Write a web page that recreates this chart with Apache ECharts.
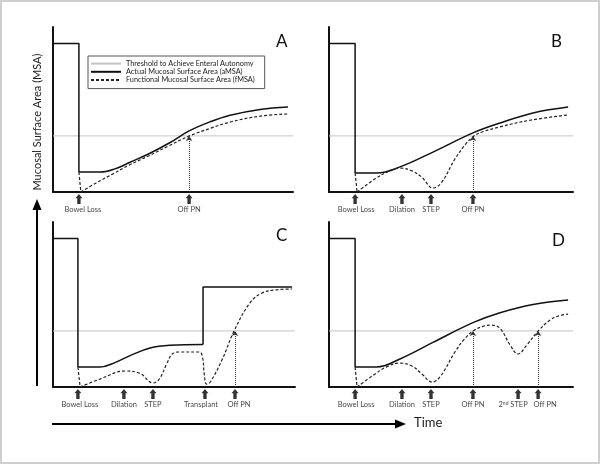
<!DOCTYPE html>
<html>
<head>
<meta charset="utf-8">
<script src="https://cdn.jsdelivr.net/npm/echarts@6/dist/echarts.min.js"></script>
<style>
  html, body { margin: 0; padding: 0; background: #fff; }
  #main { width: 601px; height: 465px; }
</style>
</head>
<body>
<div id="main"></div>
<script>
// values: time 0-100 on x, MSA 0-100 on y
const PRE_LOSS = 90
const THRESHOLD = 34

const stepA = [[0, PRE_LOSS], [10.8, PRE_LOSS], [10.8, 12.1]]
const actualA = [[10.8, 12.1], [19.6, 12.1], [25.8, 14], [32.1, 18], [40.4, 23.5], [48.8, 30], [56.7, 37], [65.4, 42.5], [73.8, 46.5], [86.3, 50], [97.9, 51.5]]
const dropA = [[10.8, 12.1], [11.6, 0]]
const functionalA = [[11.6, 0], [18, 5.5], [25, 11], [32, 16.5], [40, 22], [48, 27.8], [56.7, 33.9], [65.4, 38.5], [73.8, 42.4], [86.3, 46], [97.9, 47.3]]
const eventsA = ['Bowel Loss', 'Off PN']
const eventTimesA = [10.8, 56.7]
const offPnA = [56.7]

const stepB = [[0, PRE_LOSS], [10.7, PRE_LOSS], [10.7, 11.5]]
const actualB = [[10.7, 11.5], [19.5, 11.5], [29.1, 15.2], [42.6, 24.2], [59, 35.8], [70.1, 41.8], [83.6, 47.9], [98, 51.5]]
const dropB = [[10.7, 11.5], [11.5, 0]]
const functionalB = [[11.5, 0], [18.9, 8], [24, 12.2], [29.1, 14.5], [34, 12.8], [38, 9], [42.6, 2.4], [46, 5.5], [51.6, 20], [56, 29], [59.4, 33.9], [63, 36.5], [70.1, 39.5], [82.4, 43.5], [98, 46.7]]
const eventsB = ['Bowel Loss', 'Dilation', 'STEP', 'Off PN']
const eventTimesB = [10.7, 29.9, 41.8, 59]
const offPnB = [59]

const stepC = [[0, PRE_LOSS], [10.3, PRE_LOSS], [10.3, 12.1]]
const actualC = [[10.3, 12.1], [19.4, 12.1], [25.6, 14.8], [31.8, 19], [40.1, 23.6], [48.3, 25.3], [62, 25.8]]
const transplantC = [[62, 25.8], [62, 60.6], [98.8, 60.6]]
const dropC = [[10.3, 12.1], [11.2, 0]]
const functionalC = [[11.2, 0], [19.4, 4.8], [29.8, 9.7], [36, 8.2], [41.3, 2.4], [44, 5], [47, 14], [49.5, 20.3], [52.5, 21.2], [60.5, 21.2], [61.8, 18], [62.5, 8], [63.4, 1.8], [65, 3], [70, 17], [74.8, 33.9], [81.4, 51], [86.4, 57], [91.7, 58.8], [98.8, 59.4]]
const eventsC = ['Bowel Loss', 'Dilation', 'STEP', 'Transplant', 'Off PN']
const eventTimesC = [10.3, 29.3, 41.3, 62.8, 75.2]
const offPnC = [75.2]

const stepD = [[0, PRE_LOSS], [10.7, PRE_LOSS], [10.7, 12.1]]
const actualD = [[10.7, 12.1], [19.5, 12.1], [29.1, 17], [42.6, 27], [59, 39], [70.1, 45], [83.6, 50], [98, 52.7]]
const dropD = [[10.7, 12.1], [11.5, 0]]
const functionalD = [[11.5, 0], [18.9, 7.9], [24, 12.5], [29.1, 14.5], [34, 12.7], [38, 8], [42.2, 3], [45.5, 6.1], [51.6, 21.2], [55.5, 29], [59, 33.9], [63, 36.7], [66.5, 37.5], [70.1, 35.5], [74.2, 25.5], [77.5, 20], [81.1, 25.5], [85.7, 33.9], [90.6, 40.6], [94, 43], [98, 44.2]]
const eventsD = ['Bowel Loss', 'Dilation', 'STEP', 'Off PN', '2{sup|nd} STEP', 'Off PN']
const eventTimesD = [10.7, 29.9, 41.8, 59, 77.5, 85.7]
const offPnD = [59, 85.7]

const NAME_T = 'Threshold to Achieve Enteral Autonomy'
const NAME_A = 'Actual Mucosal Surface Area (aMSA)'
const NAME_F = 'Functional Mucosal Surface Area (fMSA)'
const FONT = 'Lato, "Open Sans", sans-serif'
const ARROW = 'path://M5,0L10,5L7.4,5L7.4,12L2.6,12L2.6,5L0,5Z'

// labelShift nudges crowded labels sideways (px), like the original layout
const panels = [
  { letter: 'A', grid: { left: 53, top: 27, width: 240, height: 165 }, step: stepA, actual: actualA, drop: dropA, functional: functionalA, events: eventsA, times: eventTimesA, offPn: offPnA, lx: 282, ly: 43, labelShift: [4, 0] },
  { letter: 'B', grid: { left: 329, top: 27, width: 244, height: 165 }, step: stepB, actual: actualB, drop: dropB, functional: functionalB, events: eventsB, times: eventTimesB, offPn: offPnB, lx: 557, ly: 43, labelShift: [1, 0, 0, 0] },
  { letter: 'C', grid: { left: 53, top: 222, width: 242, height: 165 }, step: stepC, actual: actualC, extraStep: transplantC, drop: dropC, functional: functionalC, events: eventsC, times: eventTimesC, offPn: offPnC, lx: 282, ly: 237, labelShift: [2, 0, 0, -4, 4] },
  { letter: 'D', grid: { left: 329, top: 222, width: 244, height: 165 }, step: stepD, actual: actualD, drop: dropD, functional: functionalD, events: eventsD, times: eventTimesD, offPn: offPnD, lx: 558, ly: 242, labelShift: [1, 0, 0, 0, -5, 7] },
]

const axisLine = { show: true, lineStyle: { color: '#111', width: 2 } }
const solid = { color: '#111', width: 1.5 }
const dashed = { color: '#222', width: 1.2, type: [3, 2] }

const grids = []
const xAxes = []
const yAxes = []
const series = []
const graphics = []

panels.forEach((p, i) => {
  grids.push(p.grid)
  xAxes.push({ type: 'value', gridIndex: i, min: 0, max: 100, axisLine, axisTick: { show: false }, axisLabel: { show: false }, splitLine: { show: false } })
  yAxes.push({ type: 'value', gridIndex: i, min: 0, max: 100, axisLine, axisTick: { show: false }, axisLabel: { show: false }, splitLine: { show: false } })
  const base = { type: 'line', xAxisIndex: i, yAxisIndex: i, symbol: 'none', animation: false }
  series.push({ ...base, name: NAME_T, data: [[0, THRESHOLD], [100, THRESHOLD]], lineStyle: { color: '#c4c4c4', width: 1 }, itemStyle: { color: '#c4c4c4' }, z: 1 })
  series.push({ ...base, name: NAME_A, data: p.step, lineStyle: solid, itemStyle: { color: '#111' } })
  series.push({ ...base, name: NAME_A, data: p.actual, smooth: 0.4, lineStyle: solid, itemStyle: { color: '#111' } })
  if (p.extraStep) series.push({ ...base, name: NAME_A, data: p.extraStep, lineStyle: solid, itemStyle: { color: '#111' } })
  series.push({ ...base, name: NAME_F, data: p.drop, lineStyle: dashed, itemStyle: { color: '#222' } })
  series.push({
    ...base, name: NAME_F, data: p.functional, smooth: 0.4, lineStyle: dashed, itemStyle: { color: '#222' },
    markLine: {
      silent: true, animation: false, symbol: ['none', 'arrow'], symbolSize: 5,
      label: { show: false },
      lineStyle: { color: '#333', width: 1, type: 'dotted' },
      data: p.offPn.map(t => [{ coord: [t, 0] }, { coord: [t, THRESHOLD] }]),
    },
  })
  series.push({
    type: 'scatter', xAxisIndex: i, yAxisIndex: i, animation: false, clip: false, silent: true,
    symbol: ARROW, symbolSize: [7, 10], symbolOffset: [0, 7],
    itemStyle: { color: '#000' },
    data: p.times.map((t, k) => ({ value: [t, 0], label: { formatter: p.events[k], offset: [p.labelShift[k], 0] } })),
    label: {
      show: true, position: 'bottom', distance: 2, fontSize: 7.5, color: '#111', fontFamily: FONT,
      rich: { sup: { fontSize: 5, verticalAlign: 'top', fontFamily: FONT, color: '#111' } },
    },
  })
  graphics.push({ type: 'text', left: p.lx - 6, top: p.ly - 10, style: { text: p.letter, fontSize: 17, fill: '#111', fontFamily: FONT } })
})

// frame, big axis arrows and their names
graphics.push(
  { type: 'rect', shape: { x: 1, y: 1, width: 598, height: 462 }, style: { fill: 'none', stroke: '#cfcfcf', lineWidth: 2 }, z: -1 },
  { type: 'line', shape: { x1: 37, y1: 386, x2: 37, y2: 208 }, style: { stroke: '#000', lineWidth: 2 } },
  { type: 'polygon', shape: { points: [[37, 199], [32.5, 210], [41.5, 210]] }, style: { fill: '#000' } },
  { type: 'line', shape: { x1: 52, y1: 424, x2: 397, y2: 424 }, style: { stroke: '#000', lineWidth: 2 } },
  { type: 'polygon', shape: { points: [[406, 424], [395, 419.5], [395, 428.5]] }, style: { fill: '#000' } },
  { type: 'text', x: 37, y: 122, rotation: Math.PI / 2, style: { text: 'Mucosal Surface Area (MSA)', fontSize: 11, fill: '#222', fontFamily: FONT, align: 'center', verticalAlign: 'middle' } },
  { type: 'text', left: 414, top: 416, style: { text: 'Time', fontSize: 13, fill: '#222', fontFamily: FONT } },
)

const chart = echarts.init(document.getElementById('main'))
chart.setOption({
  animation: false,
  backgroundColor: '#fff',
  textStyle: { fontFamily: FONT },
  legend: {
    left: 88, top: 56, orient: 'vertical',
    data: [NAME_T, NAME_A, NAME_F],
    itemWidth: 30, itemHeight: 9, itemGap: 1,
    padding: [4, 10, 5, 2],
    borderColor: '#555', borderWidth: 1, backgroundColor: '#fff',
    selectedMode: false,
    itemStyle: { opacity: 0 },
    textStyle: { fontSize: 7.3, color: '#222', fontFamily: FONT },
  },
  grid: grids,
  xAxis: xAxes,
  yAxis: yAxes,
  series,
  graphic: graphics,
})
</script>
</body>
</html>
